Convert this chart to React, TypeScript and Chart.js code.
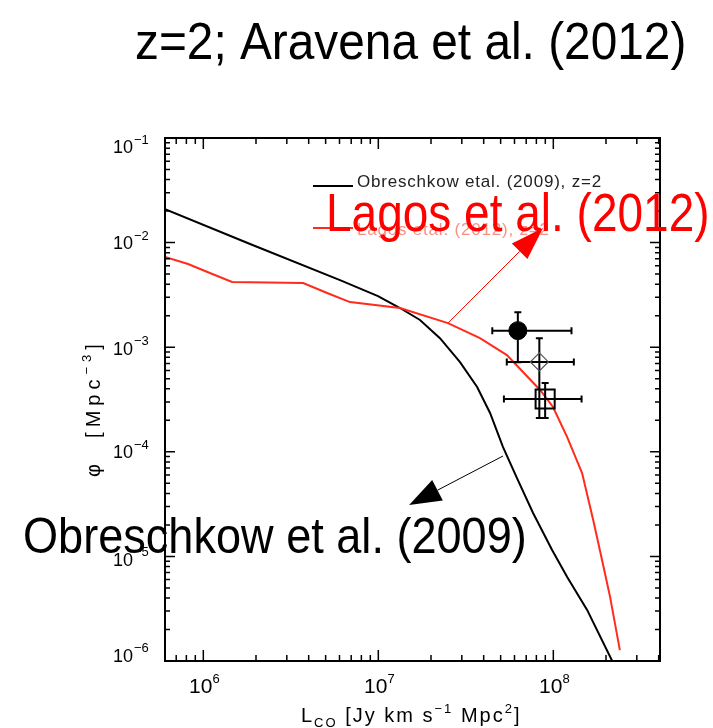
import React, { useEffect, useRef } from "react";
import { Chart, registerables } from "chart.js";

Chart.register(...registerables);

const W = 713;
const H = 728;
const FONT = '"Liberation Sans", Arial, Helvetica, sans-serif';

// CO luminosity function at z=2: L_CO [Jy km s^-1 Mpc^2] vs phi [Mpc^-3]
const obreschkowL = [6.04e5, 1.85e6, 6.04e6, 9.96e6, 1.33e7, 1.73e7, 2.25e7, 2.93e7, 3.67e7, 4.35e7, 5.16e7, 6.2e7, 7.66e7, 9.84e7, 1.2e8, 1.56e8, 2.17e8];
const obreschkowPhi = [2.09e-2, 9.7e-3, 4.38e-3, 3.08e-3, 2.37e-3, 1.82e-3, 1.22e-3, 7.2e-4, 4.16e-4, 2.35e-4, 1.11e-4, 5.6e-5, 2.6e-5, 1.15e-5, 6.35e-6, 3.08e-6, 1.0e-6];

const lagosL = [6.04e5, 8.18e5, 1.09e6, 1.46e6, 3.72e6, 5.1e6, 6.89e6, 1.33e7, 2.5e7, 3.81e7, 5.43e7, 6.71e7, 8.4e7, 9.96e7, 1.2e8, 1.46e8, 1.69e8, 1.9e8, 2.11e8, 2.4e8];
const lagosPhi = [7.28e-3, 6.24e-3, 5.12e-3, 4.2e-3, 4.11e-3, 3.3e-3, 2.7e-3, 2.37e-3, 1.7e-3, 1.22e-3, 8.4e-4, 5.8e-4, 3.9e-4, 2.68e-4, 1.38e-4, 6.26e-5, 2.23e-5, 9.2e-6, 4.1e-6, 1.27e-6];

// Aravena et al. (2012) estimates with their error ranges
const obsL = [6.27e7, 8.32e7, 8.98e7];
const obsPhi = [1.44e-3, 7.23e-4, 3.2e-4];
const obsLLow = [4.48e7, 5.42e7, 5.22e7];
const obsLHigh = [1.27e8, 1.31e8, 1.45e8];
const obsPhiLow = [7.18e-4, 2.1e-4, 2.1e-4];
const obsPhiHigh = [2.16e-3, 1.22e-3, 4.55e-4];
const obsStyles = ["circle", "rectRot", "rect"];

// axis ranges and tick labels
const xMin = 6.04e5;
const xMax = 4.07e8;
const yMin = 1e-6;
const yMax = 1e-1;
const xMajor = [1e6, 1e7, 1e8];
const xExp = ["6", "7", "8"];
const yMajor = [1e-1, 1e-2, 1e-3, 1e-4, 1e-5, 1e-6];
const yExp = ["\u22121", "\u22122", "\u22123", "\u22124", "\u22125", "\u22126"];
const yLabelNudge = [8.5, 0, 1, 0, 3, -6];

// arrow anchors in data coordinates: [fromL, fromPhi, toL, toPhi]
const lagosArrow = [2.5e7, 1.7e-3, 8.73e7, 1.38e-2];
const obreschkowArrow = [5.16e7, 9.12e-5, 1.5e7, 3.1e-5];

const RED = "#ff2b1c";

function minorTicks(min: number, max: number) {
  const out: number[] = [];
  for (let d = Math.floor(Math.log10(min)); d <= Math.ceil(Math.log10(max)); d++) {
    for (let m = 2; m <= 9; m++) {
      const v = m * Math.pow(10, d);
      if (v > min && v < max) out.push(v);
    }
  }
  return out;
}

type Piece = { t: string; size: number; dy?: number };

function drawPieces(ctx: CanvasRenderingContext2D, pieces: Piece[], x: number, y: number, spacing: number) {
  let cx = x;
  for (const p of pieces) {
    ctx.font = `${p.size}px ${FONT}`;
    (ctx as any).letterSpacing = `${spacing}px`;
    ctx.fillText(p.t, cx, y + (p.dy || 0));
    cx += ctx.measureText(p.t).width;
  }
  (ctx as any).letterSpacing = "0px";
  return cx;
}

function stretchedText(ctx: CanvasRenderingContext2D, text: string, x: number, y: number, size: number, color: string, sy: number) {
  ctx.save();
  ctx.translate(x, y);
  ctx.scale(1, sy);
  ctx.font = `${size}px ${FONT}`;
  ctx.fillStyle = color;
  ctx.textAlign = "left";
  ctx.textBaseline = "alphabetic";
  ctx.fillText(text, 0, 0);
  ctx.restore();
}

function arrow(ctx: CanvasRenderingContext2D, x0: number, y0: number, x1: number, y1: number, color: string, headLen: number, headHalf: number) {
  const dx = x1 - x0;
  const dy = y1 - y0;
  const len = Math.hypot(dx, dy);
  const ux = dx / len;
  const uy = dy / len;
  const bx = x1 - ux * headLen;
  const by = y1 - uy * headLen;
  ctx.save();
  ctx.strokeStyle = color;
  ctx.fillStyle = color;
  ctx.lineWidth = 1;
  ctx.beginPath();
  ctx.moveTo(x0, y0);
  ctx.lineTo(bx, by);
  ctx.stroke();
  ctx.beginPath();
  ctx.moveTo(x1, y1);
  ctx.lineTo(bx - uy * headHalf, by + ux * headHalf);
  ctx.lineTo(bx + uy * headHalf, by - ux * headHalf);
  ctx.closePath();
  ctx.fill();
  ctx.restore();
}

const decorPlugin = {
  id: "decor",
  beforeDatasetDraw(chart: any, args: any) {
    if (args.index !== 2) return;
    const ctx: CanvasRenderingContext2D = chart.ctx;
    const xs = chart.scales.x;
    const ys = chart.scales.y;
    const cap = 3.5;
    ctx.save();
    ctx.strokeStyle = "#000";
    ctx.lineWidth = 2;
    for (let i = 0; i < obsL.length; i++) {
      const px = xs.getPixelForValue(obsL[i]);
      const py = ys.getPixelForValue(obsPhi[i]);
      const xl = xs.getPixelForValue(obsLLow[i]);
      const xh = xs.getPixelForValue(obsLHigh[i]);
      const yl = ys.getPixelForValue(obsPhiLow[i]);
      const yh = ys.getPixelForValue(obsPhiHigh[i]);
      ctx.beginPath();
      ctx.moveTo(xl, py);
      ctx.lineTo(xh, py);
      ctx.moveTo(xl, py - cap);
      ctx.lineTo(xl, py + cap);
      ctx.moveTo(xh, py - cap);
      ctx.lineTo(xh, py + cap);
      ctx.moveTo(px, yl);
      ctx.lineTo(px, yh);
      ctx.moveTo(px - cap, yl);
      ctx.lineTo(px + cap, yl);
      ctx.moveTo(px - cap, yh);
      ctx.lineTo(px + cap, yh);
      ctx.stroke();
    }
    ctx.restore();
  },
  afterDraw(chart: any) {
    const ctx: CanvasRenderingContext2D = chart.ctx;
    const xs = chart.scales.x;
    const ys = chart.scales.y;
    const { left, right, top, bottom } = chart.chartArea;

    ctx.save();
    // frame
    ctx.strokeStyle = "#000";
    ctx.lineWidth = 2;
    ctx.strokeRect(left, top, right - left, bottom - top);

    // inward ticks on all four sides
    ctx.lineWidth = 1.5;
    ctx.beginPath();
    const tick = (v: number, len: number, axis: "x" | "y") => {
      if (axis === "x") {
        const p = xs.getPixelForValue(v);
        ctx.moveTo(p, bottom);
        ctx.lineTo(p, bottom - len);
        ctx.moveTo(p, top);
        ctx.lineTo(p, top + len);
      } else {
        const p = ys.getPixelForValue(v);
        ctx.moveTo(left, p);
        ctx.lineTo(left + len, p);
        ctx.moveTo(right, p);
        ctx.lineTo(right - len, p);
      }
    };
    xMajor.forEach((v) => tick(v, 11, "x"));
    minorTicks(xMin, xMax).forEach((v) => tick(v, 6, "x"));
    yMajor.forEach((v) => tick(v, 10, "y"));
    minorTicks(yMin, yMax).forEach((v) => tick(v, 5, "y"));
    ctx.stroke();

    // tick labels
    ctx.fillStyle = "#000";
    ctx.textBaseline = "alphabetic";
    ctx.textAlign = "left";
    yMajor.forEach((v, i) => {
      const py = ys.getPixelForValue(v) + yLabelNudge[i];
      ctx.font = `18px ${FONT}`;
      ctx.textAlign = "right";
      ctx.fillText("10", 133, py + 6.5);
      ctx.font = `13px ${FONT}`;
      ctx.textAlign = "left";
      ctx.fillText(yExp[i], 134, py - 3);
    });
    xMajor.forEach((v, i) => {
      const px = xs.getPixelForValue(v);
      ctx.font = `21px ${FONT}`;
      const w1 = ctx.measureText("10").width;
      ctx.font = `13px ${FONT}`;
      const w2 = ctx.measureText(xExp[i]).width;
      const x0 = px - (w1 + w2) / 2 + 1;
      ctx.font = `21px ${FONT}`;
      ctx.fillText("10", x0, 693);
      ctx.font = `13px ${FONT}`;
      ctx.fillText(xExp[i], x0 + w1, 683);
    });

    // axis titles
    drawPieces(
      ctx,
      [
        { t: "L", size: 20 },
        { t: "CO", size: 13, dy: 5 },
        { t: " [Jy km s", size: 20 },
        { t: "\u22121", size: 13, dy: -9 },
        { t: " Mpc", size: 20 },
        { t: "2", size: 13, dy: -9 },
        { t: "]", size: 20 },
      ],
      301,
      722,
      2
    );
    ctx.save();
    ctx.translate(100, 477);
    ctx.rotate(-Math.PI / 2);
    drawPieces(
      ctx,
      [
        { t: "\u03c6", size: 20 },
        { t: "  [Mpc", size: 20 },
        { t: "\u22123", size: 13, dy: -9 },
        { t: "]", size: 20 },
      ],
      0,
      0,
      5
    );
    ctx.restore();

    // in-plot legend
    ctx.lineWidth = 2;
    ctx.strokeStyle = "#000";
    ctx.beginPath();
    ctx.moveTo(313, 186);
    ctx.lineTo(353, 186);
    ctx.stroke();
    ctx.strokeStyle = RED;
    ctx.beginPath();
    ctx.moveTo(313, 228);
    ctx.lineTo(353, 228);
    ctx.stroke();
    ctx.fillStyle = "#222";
    drawPieces(ctx, [{ t: "Obreschkow etal. (2009), z=2", size: 17 }], 357, 187, 0.8);
    ctx.fillStyle = "rgba(240, 70, 50, 0.6)";
    drawPieces(ctx, [{ t: "Lagos etal. (2012), z=2", size: 17 }], 357, 235, 0.8);

    // arrows
    arrow(
      ctx,
      xs.getPixelForValue(lagosArrow[0]),
      ys.getPixelForValue(lagosArrow[1]),
      xs.getPixelForValue(lagosArrow[2]),
      ys.getPixelForValue(lagosArrow[3]),
      "#ff0000",
      33,
      11
    );
    arrow(
      ctx,
      xs.getPixelForValue(obreschkowArrow[0]),
      ys.getPixelForValue(obreschkowArrow[1]),
      xs.getPixelForValue(obreschkowArrow[2]),
      ys.getPixelForValue(obreschkowArrow[3]),
      "#000000",
      32,
      11.5
    );

    // titles and callouts
    stretchedText(ctx, "z=2; Aravena et al. (2012)", 135, 58.5, 47.8, "#000", 1.08);
    stretchedText(ctx, "Lagos et al. (2012)", 326, 231, 46, "#ff0000", 1.17);
    stretchedText(ctx, "Obreschkow et al. (2009)", 23, 553, 45.1, "#000", 1.1);
    ctx.restore();
  },
};

export default function App() {
  const canvasRef = useRef<HTMLCanvasElement | null>(null);

  useEffect(() => {
    const canvas = canvasRef.current;
    if (!canvas) return;
    const chart = new Chart(canvas, {
      type: "scatter",
      data: {
        datasets: [
          {
            label: "Obreschkow etal. (2009), z=2",
            data: obreschkowL.map((x, i) => ({ x, y: obreschkowPhi[i] })),
            showLine: true,
            borderColor: "#000",
            borderWidth: 2,
            pointRadius: 0,
            tension: 0,
            order: 3,
          },
          {
            label: "Lagos etal. (2012), z=2",
            data: lagosL.map((x, i) => ({ x, y: lagosPhi[i] })),
            showLine: true,
            borderColor: RED,
            borderWidth: 2,
            pointRadius: 0,
            tension: 0,
            order: 2,
          },
          {
            label: "Aravena et al. (2012)",
            data: obsL.map((x, i) => ({ x, y: obsPhi[i] })),
            showLine: false,
            pointStyle: obsStyles as any,
            pointRadius: [9, 9, 13.5],
            pointBackgroundColor: ["#000", "rgba(0,0,0,0)", "rgba(0,0,0,0)"],
            pointBorderColor: ["#000", "#555", "#000"],
            pointBorderWidth: [1, 1.2, 2],
            order: 1,
          },
        ],
      },
      options: {
        responsive: false,
        animation: false,
        layout: {
          autoPadding: false,
          padding: { left: 165, top: 138, right: W - 660, bottom: H - 661 },
        },
        plugins: {
          legend: { display: false },
          tooltip: { enabled: false },
          title: { display: false },
        },
        scales: {
          x: {
            type: "logarithmic",
            min: xMin,
            max: xMax,
            ticks: { display: false },
            grid: { display: false, drawTicks: false },
            border: { display: false },
            afterFit: (s: any) => {
              s.height = 0;
            },
          },
          y: {
            type: "logarithmic",
            min: yMin,
            max: yMax,
            ticks: { display: false },
            grid: { display: false, drawTicks: false },
            border: { display: false },
            afterFit: (s: any) => {
              s.width = 0;
            },
          },
        },
      },
      plugins: [decorPlugin],
    });
    return () => chart.destroy();
  }, []);

  return (
    <div style={{ position: "absolute", left: 0, top: 0, width: W, height: H, background: "#fff" }}>
      <canvas ref={canvasRef} width={W} height={H} style={{ display: "block" }} />
    </div>
  );
}
